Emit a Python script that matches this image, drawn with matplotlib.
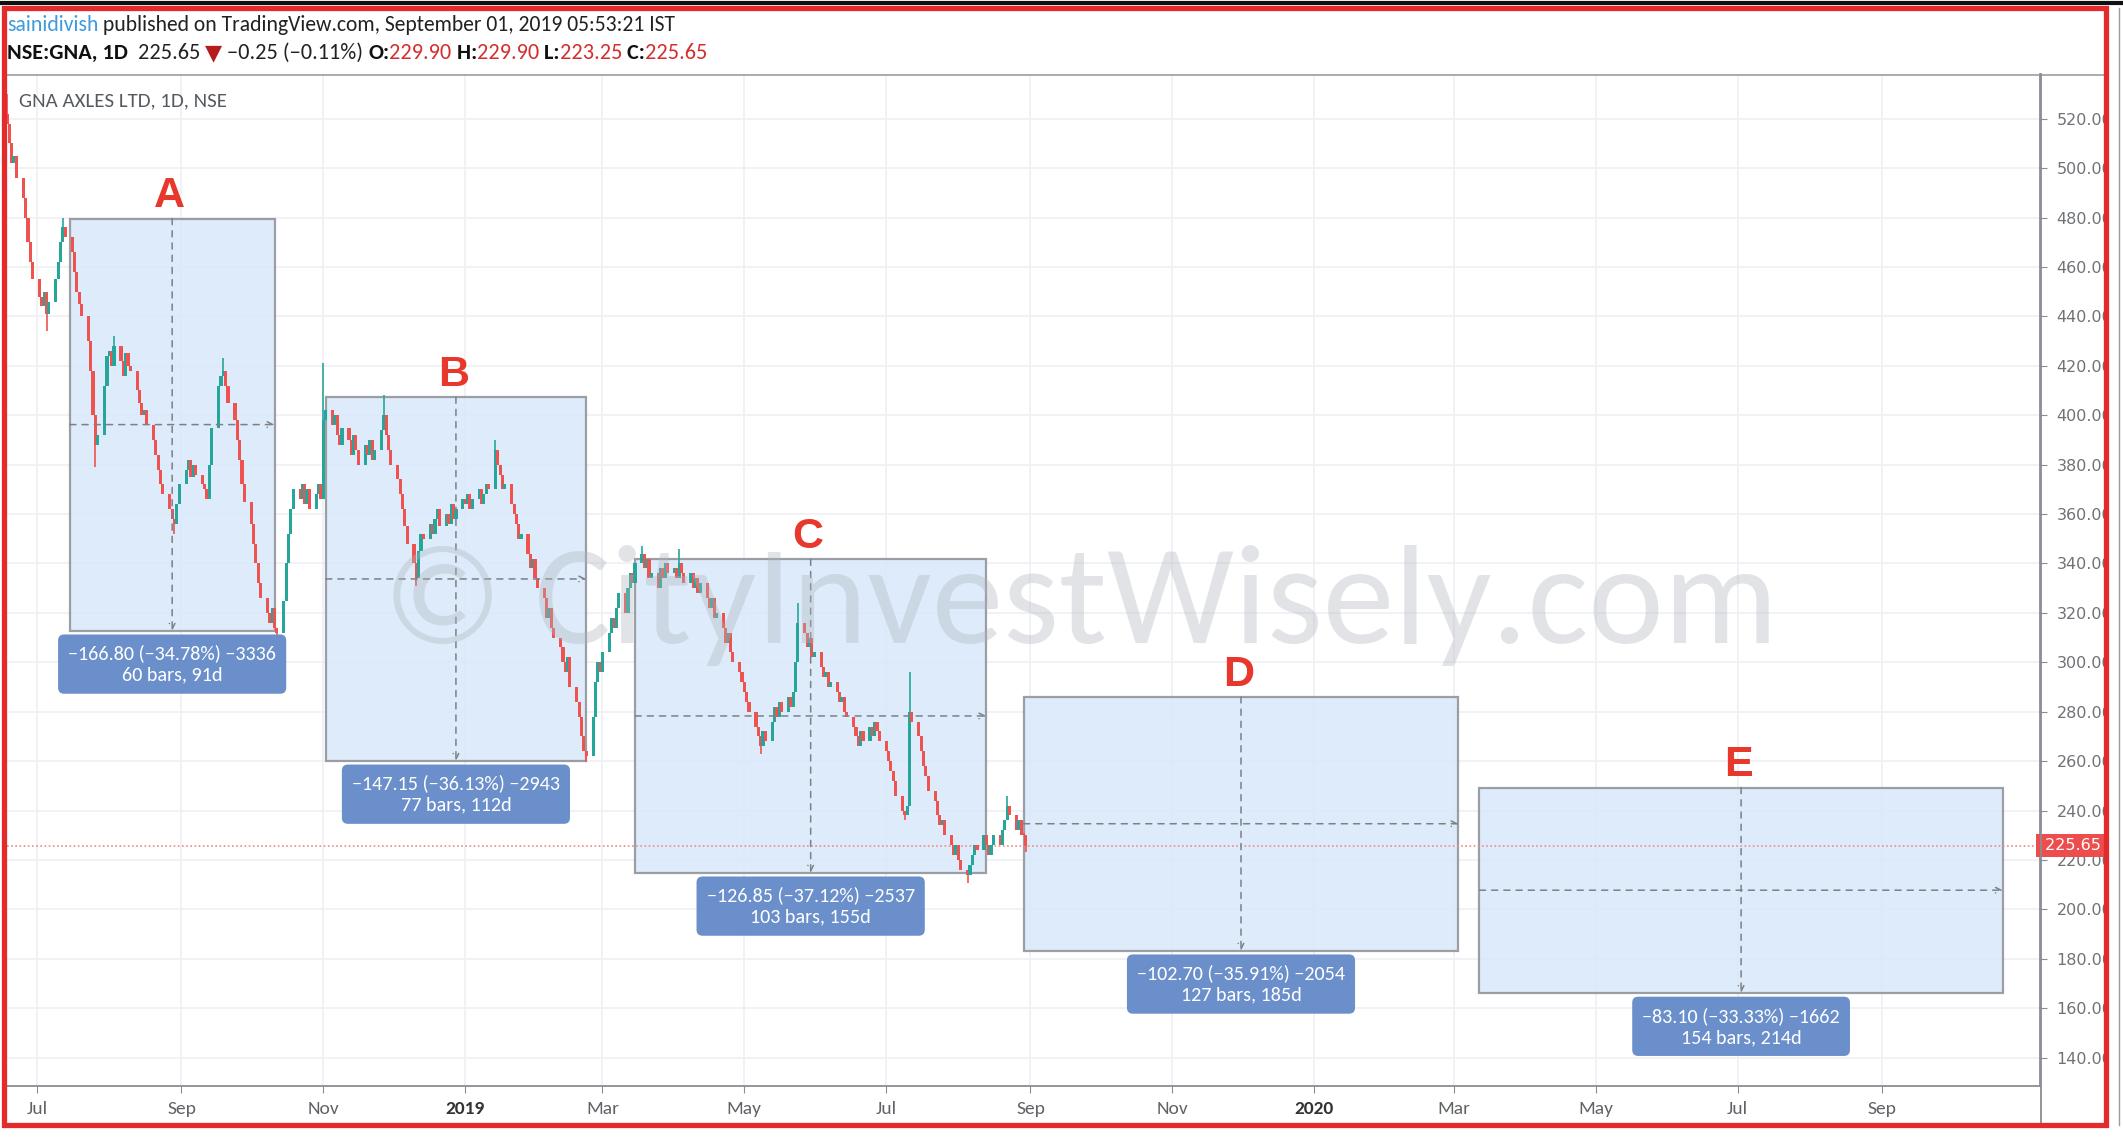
import matplotlib
matplotlib.use('Agg')
import matplotlib.pyplot as plt
import matplotlib.dates as mdates
import matplotlib.transforms as mtransforms
from matplotlib.patches import Rectangle
from matplotlib.lines import Line2D
from matplotlib import font_manager
import pandas as pd

W, H = 2123, 1138

installed = {f.name for f in font_manager.fontManager.ttflist}
NARROW = 'Liberation Sans'
for cand in ['Carlito', 'Liberation Sans Narrow', 'Asap Condensed']:
    if cand in installed:
        NARROW = cand
        break
FONT = [NARROW, 'DejaVu Sans']
plt.rcParams['font.family'] = FONT

# ---- price data (daily closes) ----
first_open = 522
closes = [
    # Jun 18-29 2018
    518, 510, 502, 505, 496, 488, 480, 470, 462, 455,
    # Jul 2018
    448, 444, 450, 441, 446, 455, 462, 470, 476, 472,
    466, 458, 450, 445, 440, 430, 418, 400, 388, 392, 412, 424,
    # Aug 2018
    426, 420, 428, 422, 416, 425, 420, 418, 410, 405, 400, 402,
    396, 390, 384, 378, 372, 368, 362, 358, 356, 364, 372,
    # Sep 2018
    378, 382, 375, 380, 376, 372, 370, 366, 380, 395,
    412, 416, 418, 412, 405, 398, 390, 382, 372, 365,
    # Oct 2018
    356, 348, 340, 332, 326, 320, 316, 322, 314, 312, 325, 340,
    352, 362, 370, 366, 372, 364, 370, 362, 368, 372, 366,
    # Nov 2018
    398, 402, 396, 400, 392, 388, 395, 390, 384, 392, 386,
    380, 388, 384, 390, 382, 386, 394, 400, 392, 386, 380,
    # Dec 2018
    374, 368, 362, 355, 348, 340, 334, 345, 352, 350, 356,
    352, 358, 362, 355, 360, 356, 364, 358, 362, 366,
    # Jan 2019
    364, 368, 362, 366, 370, 364, 368, 372, 370, 386, 380, 376,
    370, 372, 364, 360, 356, 350, 352, 344, 338, 342, 334,
    # Feb 2019
    330, 326, 318, 322, 314, 310, 306, 300, 296, 302,
    290, 284, 278, 270, 264, 262, 278, 292, 300, 296,
    # Mar 2019
    304, 312, 318, 314, 322, 328, 320, 330, 336, 332, 340,
    344, 338, 342, 334, 336, 330, 338, 334, 340, 336,
    # Apr 2019
    338, 334, 340, 336, 332, 336, 330, 334, 328, 332, 326,
    322, 326, 318, 320, 314, 308, 312, 304, 300, 296, 292,
    # May 2019
    288, 284, 280, 274, 270, 266, 272, 268, 276, 282, 278, 284,
    280, 286, 282, 288, 300, 316, 312, 306, 310, 302, 304,
    # Jun 2019
    298, 294, 296, 290, 292, 288, 284, 286, 280, 278,
    274, 270, 266, 272, 268, 274, 270, 276, 272, 268,
    # Jul 2019
    264, 260, 256, 252, 246, 240, 238, 242, 280, 276, 270, 264,
    258, 254, 248, 244, 238, 234, 236, 230, 226, 222, 226,
    # Aug 2019
    220, 216, 214, 218, 222, 226, 224, 230, 226, 222, 226,
    230, 226, 232, 236, 242, 238, 232, 236, 230, 229.90, 225.65,
]
wick_high = {
    '2018-06-18': 530, '2018-07-12': 480, '2018-08-03': 432, '2018-09-19': 423,
    '2018-11-01': 421, '2018-11-27': 408, '2019-01-14': 390, '2019-03-18': 347,
    '2019-04-03': 346, '2019-05-24': 324, '2019-07-11': 296, '2019-08-22': 246,
    '2019-08-30': 229.90,
}
wick_low = {
    '2018-07-05': 434, '2018-07-26': 379, '2018-08-29': 352, '2018-10-12': 309,
    '2018-12-11': 331, '2019-02-22': 259.5, '2019-05-08': 263, '2019-07-09': 236,
    '2019-08-05': 210.7, '2019-08-30': 223.25,
}
last_price = 225.65

# ---- measured ranges ----
box_names = ['A', 'B', 'C', 'D', 'E']
box_start = ['2018-07-15', '2018-11-02', '2019-03-15', '2019-08-29', '2020-03-12']
box_end = ['2018-10-11', '2019-02-22', '2019-08-13', '2020-03-03', '2020-10-23']
box_top = [479.60, 407.30, 341.70, 286.00, 249.30]
box_bottom = [312.80, 260.15, 214.85, 183.30, 166.20]
box_change = ['\u2212166.80 (\u221234.78%) \u22123336', '\u2212147.15 (\u221236.13%) \u22122943',
              '\u2212126.85 (\u221237.12%) \u22122537', '\u2212102.70 (\u221235.91%) \u22122054',
              '\u221283.10 (\u221233.33%) \u22121662']
box_span = ['60 bars, 91d', '77 bars, 112d', '103 bars, 155d', '127 bars, 185d', '154 bars, 214d']

tick_dates = ['2018-07-01', '2018-09-01', '2018-11-01', '2019-01-01', '2019-03-01', '2019-05-01',
              '2019-07-01', '2019-09-01', '2019-11-01', '2020-01-01', '2020-03-01', '2020-05-01',
              '2020-07-01', '2020-09-01']
tick_labels = ['Jul', 'Sep', 'Nov', '2019', 'Mar', 'May', 'Jul', 'Sep', 'Nov', '2020', 'Mar', 'May',
               'Jul', 'Sep']
price_ticks = list(range(140, 521, 20))

UP, DOWN = '#26a69a', '#ef5350'
RED = '#e32b2b'


def fx(px):
    return px / W


def fy(py):
    return 1 - py / H


fig = plt.figure(figsize=(W / 100, H / 100), dpi=100)
fig.patch.set_facecolor('white')
ax = fig.add_axes([fx(7), fy(1086), (2040 - 7) / W, (1086 - 74) / H])

# candles
dates = pd.bdate_range('2018-06-18', periods=len(closes))
dn = mdates.date2num(dates)
opens = [first_open] + closes[:-1]
highs, lows, cols = [], [], []
for d, o, c in zip(dates, opens, closes):
    k = d.strftime('%Y-%m-%d')
    highs.append(wick_high.get(k, max(o, c)))
    lows.append(wick_low.get(k, min(o, c)))
    cols.append(UP if c >= o else DOWN)
ax.vlines(dn, lows, highs, colors=cols, lw=1.2, zorder=3)
ax.bar(dn, [max(abs(c - o), 0.9) for o, c in zip(opens, closes)],
       bottom=[min(o, c) for o, c in zip(opens, closes)],
       width=1.35, color=cols, lw=0, zorder=3)

ax.axhline(last_price, color='#f08a8a', lw=1.2, ls=(0, (1, 1.5)), zorder=2)

# measured boxes
for name, s, e, top, bot, t1, t2 in zip(box_names, box_start, box_end, box_top, box_bottom,
                                         box_change, box_span):
    x0, x1 = mdates.datestr2num(s), mdates.datestr2num(e)
    cx = (x0 + x1) / 2
    mid = (top + bot) / 2
    ax.add_patch(Rectangle((x0, bot), x1 - x0, top - bot, fc='#d9e8fb', ec='#8c8f94',
                           lw=1.6, alpha=0.85, zorder=1))
    arrow = dict(arrowstyle='->', color='#7d8085', lw=1.1, linestyle=(0, (4, 4)),
                 shrinkA=0, shrinkB=0)
    ax.annotate('', xy=(cx, bot), xytext=(cx, top), arrowprops=arrow, zorder=4)
    ax.annotate('', xy=(x1, mid), xytext=(x0, mid), arrowprops=arrow, zorder=4)
    ax.annotate(t1 + '\n' + t2, xy=(cx, bot), xytext=(0, -10), textcoords='offset points',
                ha='center', va='top', color='white', fontsize=14.5, linespacing=1.3,
                bbox=dict(boxstyle='round,pad=0.5,rounding_size=0.3', fc='#6a8fca', ec='none'),
                zorder=5)
    ax.annotate(name, xy=(cx, top), xytext=(-2, 8), textcoords='offset points',
                ha='center', va='baseline', color='#e8372c', fontsize=31,
                fontweight='bold', family=['Liberation Sans', 'DejaVu Sans'], zorder=5)

# axes styling
ax.set_xlim(mdates.datestr2num('2018-06-18'), mdates.datestr2num('2020-11-08'))
ax.set_ylim(128.5, 538.1)
ax.set_xticks(mdates.datestr2num(tick_dates))
ax.set_xticklabels(tick_labels)
ax.set_yticks(price_ticks)
ax.set_yticklabels(['%.2f' % v for v in price_ticks])
ax.yaxis.tick_right()
ax.tick_params(axis='y', colors='#8a8d92', labelcolor='#6f7276', labelsize=11.5, length=5,
               pad=7)
ax.tick_params(axis='x', colors='#8a8d92', labelcolor='#5f6266', labelsize=14, length=5,
               pad=6)
for lab in ax.get_xticklabels():
    if lab.get_text().isdigit():
        lab.set_fontweight('bold')
        lab.set_color('#333333')
for lab in ax.get_yticklabels():
    lab.set_family(['DejaVu Sans'])
ax.grid(True, color='#edf0f4', lw=1.2, zorder=0)
ax.set_axisbelow(True)
ax.spines['left'].set_visible(False)
ax.spines['top'].set_visible(False)
for sp in ('right', 'bottom'):
    ax.spines[sp].set_color('#8a8d92')
    ax.spines[sp].set_linewidth(1.3)

trans = mtransforms.blended_transform_factory(ax.transAxes, ax.transData)
ax.text(1.0, last_price, ' 225.65    ', transform=trans, ha='left', va='center',
        color='white', fontsize=11.5, family=['DejaVu Sans'], clip_on=False, zorder=6,
        bbox=dict(boxstyle='square,pad=0.25', fc='#ec4d4d', ec='none'))

ax.text(0.006, 0.982, 'GNA AXLES LTD, 1D, NSE', transform=ax.transAxes, ha='left', va='top',
        color='#555a60', fontsize=15)

# header lines
renderer = fig.canvas.get_renderer()


def segments(x, y, parts, size):
    for txt, color, weight in parts:
        t = fig.text(x, y, txt, color=color, fontweight=weight, fontsize=size, va='center')
        x += t.get_window_extent(renderer=renderer).width / fig.bbox.width


segments(fx(7), fy(25), [('sainidivish', '#3d9be0', 'normal'),
                         (' published on TradingView.com, September 01, 2019 05:53:21 IST',
                          '#222222', 'normal')], 15.6)
segments(fx(7), fy(53), [('NSE:GNA, 1D', '#111111', 'bold'),
                         ('  225.65 ', '#222222', 'normal'),
                         ('\u25bc', '#b71c1c', 'normal'),
                         (' \u22120.25 (\u22120.11%) ', '#222222', 'normal'),
                         ('O:', '#111111', 'bold'), ('229.90', '#d32f2f', 'normal'),
                         (' H:', '#111111', 'bold'), ('229.90', '#d32f2f', 'normal'),
                         (' L:', '#111111', 'bold'), ('223.25', '#d32f2f', 'normal'),
                         (' C:', '#111111', 'bold'), ('225.65', '#d32f2f', 'normal')], 16)

# watermark
fig.text(fx(1080), fy(643), '\u00a9 CityInvestWisely.com', ha='center', va='baseline',
         fontsize=103, color='#aeb4bd', alpha=0.36, zorder=10)

# frame lines
fig.add_artist(Line2D([fx(4), fx(2106)], [fy(74.5), fy(74.5)], color='#9a9da2', lw=1.2))
fig.add_artist(Line2D([fx(2040.5), fx(2040.5)], [fy(74), fy(1125)], color='#8a8d92', lw=1.3))
fig.add_artist(Rectangle((fx(2108), 0), 1 - fx(2108), 1, transform=fig.transFigure,
                         fc='white', ec='none', zorder=20))
fig.add_artist(Line2D([fx(2119), fx(2119)], [fy(8), fy(1125)], color='#9a9da2', lw=1.0,
                      zorder=21))
fig.add_artist(Line2D([0, 1], [fy(2.5), fy(2.5)], color='#111111', lw=3, zorder=21))
fig.add_artist(Rectangle((fx(4), fy(1125)), fx(2106) - fx(4), fy(8) - fy(1125),
                         transform=fig.transFigure, fill=False, ec=RED, lw=3.8, zorder=22))

fig.savefig('out.png', dpi=100)
